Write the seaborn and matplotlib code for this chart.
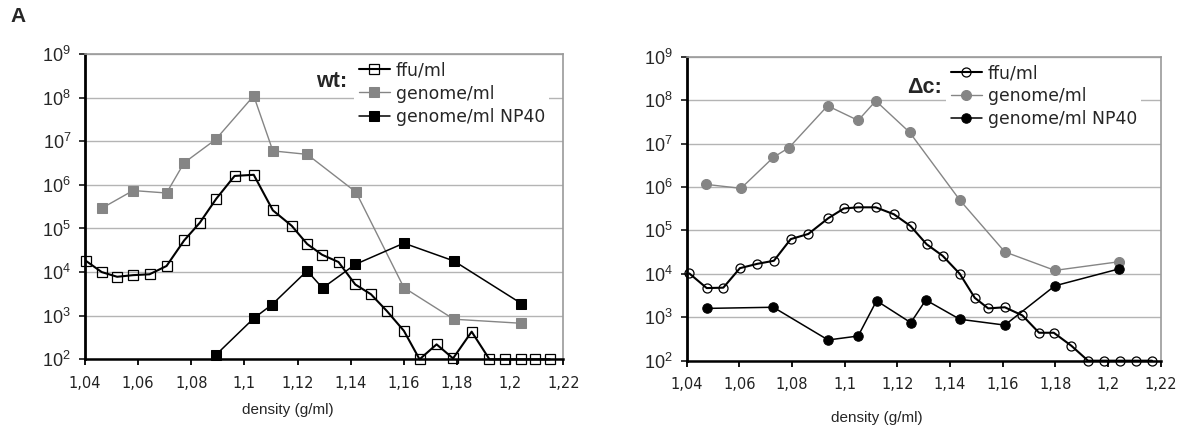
import matplotlib
matplotlib.use("Agg")
import matplotlib.pyplot as plt
import seaborn as sns
import numpy as np

# ---------------- data ----------------
wt_ffu_x = [1.0404, 1.0463, 1.0521, 1.0581, 1.0643, 1.0707, 1.0773, 1.0832, 1.0894, 1.0963,
            1.1035, 1.1107, 1.1178, 1.1236, 1.1292, 1.1354, 1.1417, 1.1476, 1.1536, 1.1600,
            1.1659, 1.1723, 1.1785, 1.1855, 1.1922, 1.1980, 1.2042, 1.2095, 1.2149]
wt_ffu_y = [1.8e4, 1.0e4, 7.8e3, 8.5e3, 8.9e3, 1.38e4, 5.3e4, 1.35e5, 4.8e5, 1.6e6,
            1.7e6, 2.6e5, 1.15e5, 4.4e4, 2.5e4, 1.7e4, 5.2e3, 3.1e3, 1.28e3, 4.5e2,
            1e2, 2.2e2, 1.05e2, 4.3e2, 1e2, 1e2, 1e2, 1e2, 1e2]

wt_gen_x = [1.0463, 1.0581, 1.0707, 1.0773, 1.0892, 1.1035, 1.1107, 1.1236, 1.1420, 1.1600, 1.1788, 1.2042]
wt_gen_y = [2.9e5, 7.4e5, 6.5e5, 3.2e6, 1.1e7, 1.1e8, 6.0e6, 5.0e6, 6.8e5, 4.4e3, 8.3e2, 6.7e2]

wt_np_x = [1.0892, 1.1035, 1.1104, 1.1236, 1.1294, 1.1417, 1.1600, 1.1788, 1.2042]
wt_np_y = [1.25e2, 8.7e2, 1.8e3, 1.07e4, 4.3e3, 1.5e4, 4.6e4, 1.8e4, 1.9e3]

dc_ffu_x = [1.0410, 1.0476, 1.0539, 1.0602, 1.0668, 1.0731, 1.0795, 1.0862, 1.0937, 1.0997,
            1.1051, 1.1118, 1.1187, 1.1250, 1.1311, 1.1372, 1.1437, 1.1494, 1.1545, 1.1608,
            1.1675, 1.1738, 1.1794, 1.1861, 1.1924, 1.1984, 1.2045, 1.2105, 1.2167]
dc_ffu_y = [1.02e4, 4.7e3, 4.8e3, 1.35e4, 1.7e4, 2.0e4, 6.3e4, 8.3e4, 1.9e5, 3.2e5,
            3.4e5, 3.4e5, 2.35e5, 1.26e5, 4.8e4, 2.6e4, 1.0e4, 2.8e3, 1.6e3, 1.7e3,
            1.1e3, 4.4e2, 4.4e2, 2.2e2, 1e2, 1e2, 1e2, 1e2, 1e2]

dc_gen_x = [1.0472, 1.0606, 1.0729, 1.0789, 1.0935, 1.1051, 1.1118, 1.1247, 1.1437, 1.1608, 1.1798, 1.2042]
dc_gen_y = [1.15e6, 9.3e5, 4.8e6, 8.1e6, 7.4e7, 3.4e7, 9.6e7, 1.8e7, 5.0e5, 3.2e4, 1.2e4, 1.9e4]

dc_np_x = [1.0476, 1.0729, 1.0937, 1.1051, 1.1121, 1.1251, 1.1308, 1.1437, 1.1608, 1.1798, 1.2042]
dc_np_y = [1.6e3, 1.7e3, 3.0e2, 3.7e2, 2.4e3, 7.5e2, 2.5e3, 9.0e2, 6.6e2, 5.3e3, 1.3e4]

series_labels = ["ffu/ml", "genome/ml", "genome/ml NP40"]
x_ticks = [1.04, 1.06, 1.08, 1.10, 1.12, 1.14, 1.16, 1.18, 1.20, 1.22]
x_ticklabels = ["1,04", "1,06", "1,08", "1,1", "1,12", "1,14", "1,16", "1,18", "1,2", "1,22"]
y_exponents = [2, 3, 4, 5, 6, 7, 8, 9]
panel_titles = ["wt:", "\u0394c:"]
x_label = "density (g/ml)"
panel_letter = "A"

# ---------------- style ----------------
sns.set_theme(style="white")
plt.rcParams["font.family"] = ["Liberation Sans", "DejaVu Sans"]
plt.rcParams["mathtext.fontset"] = "custom"
plt.rcParams["mathtext.rm"] = "Liberation Sans"
plt.rcParams["mathtext.it"] = "Liberation Sans:italic"
plt.rcParams["mathtext.bf"] = "Liberation Sans:bold"

GRAY = "#858585"
GRID = "#b4b4b4"

fig = plt.figure(figsize=(11.85, 4.34), dpi=100)
ax1 = fig.add_axes([0.0717, 0.1721, 0.4037, 0.7035])
ax2 = fig.add_axes([0.5795, 0.1689, 0.4000, 0.7005])


def draw_panel(ax, ffu_x, ffu_y, gen_x, gen_y, np_x, np_y, marker, title, leg_anchor, title_pos):
    ax.set_yscale("log")
    ax.set_ylim(1e2, 1e9)
    ax.set_xlim(1.04, 1.22)
    ax.set_axisbelow(True)
    ax.yaxis.grid(True, color=GRID, linewidth=1.0)
    ax.xaxis.grid(False)

    sns.lineplot(x=gen_x, y=gen_y, ax=ax, color=GRAY, linewidth=1.0, marker=marker,
                 markersize=7.2, markerfacecolor=GRAY, markeredgecolor=GRAY,
                 label=series_labels[1], clip_on=False, zorder=3)
    sns.lineplot(x=np_x, y=np_y, ax=ax, color="black", linewidth=1.1, marker=marker,
                 markersize=6.8, markerfacecolor="black", markeredgecolor="black",
                 label=series_labels[2], clip_on=False, zorder=4)
    sns.lineplot(x=ffu_x, y=ffu_y, ax=ax, color="black", linewidth=1.5, marker=marker,
                 markersize=6.5, markerfacecolor="none", markeredgecolor="black",
                 markeredgewidth=0.9, label=series_labels[0], clip_on=False, zorder=5)

    ax.set_xticks(x_ticks)
    ax.set_xticklabels(x_ticklabels, family="DejaVu Sans", fontsize=10.5, color="#222222")
    ax.set_yticks([10.0 ** e for e in y_exponents])
    ax.set_yticklabels([r"$\mathregular{10^{%d}}$" % e for e in y_exponents], fontsize=13)
    ax.minorticks_off()
    ax.tick_params(axis="x", direction="out", length=4, width=1.3, pad=8, bottom=True, colors="black")
    ax.tick_params(axis="y", direction="out", length=4, width=1.3, pad=6, left=True)
    for lab in ax.get_xticklabels():
        lab.set_color("#222222")

    for side in ["top", "right"]:
        ax.spines[side].set_color("#9a9a9a")
        ax.spines[side].set_linewidth(1.2)
    ax.spines["left"].set_color("black")
    ax.spines["left"].set_linewidth(2.0)
    ax.spines["bottom"].set_color("black")
    ax.spines["bottom"].set_linewidth(1.8)
    ax.set_xlabel("")
    ax.set_ylabel("")

    handles, labels = ax.get_legend_handles_labels()
    order = [labels.index(l) for l in series_labels]
    leg = ax.legend([handles[i] for i in order], [labels[i] for i in order],
                    loc="upper left", bbox_to_anchor=leg_anchor,
                    prop={"family": "DejaVu Sans", "size": 12.4},
                    handlelength=1.8, handletextpad=0.35, labelspacing=0.3,
                    borderpad=0.25, borderaxespad=0.0, frameon=True, framealpha=1.0,
                    facecolor="white", edgecolor="none", fancybox=False)
    leg.set_zorder(10)
    ax.text(title_pos[0], title_pos[1], title, transform=ax.transAxes, ha="right", va="center",
            fontsize=15.5, fontweight="bold", zorder=11)


draw_panel(ax1, wt_ffu_x, wt_ffu_y, wt_gen_x, wt_gen_y, wt_np_x, wt_np_y, "s",
           panel_titles[0], (0.563, 0.99), (0.548, 0.91))
draw_panel(ax2, dc_ffu_x, dc_ffu_y, dc_gen_x, dc_gen_y, dc_np_x, dc_np_y, "o",
           panel_titles[1], (0.548, 0.99), (0.538, 0.90))

fig.text(288 / 1185, 1 - 410 / 434, x_label, ha="center", va="center", fontsize=11)
fig.text(877 / 1185, 1 - 418 / 434, x_label, ha="center", va="center", fontsize=11)
fig.text(10 / 1185, 1 - 16 / 434, panel_letter, ha="left", va="center", fontsize=15, fontweight="bold")

fig.savefig("out.png", dpi=100)
